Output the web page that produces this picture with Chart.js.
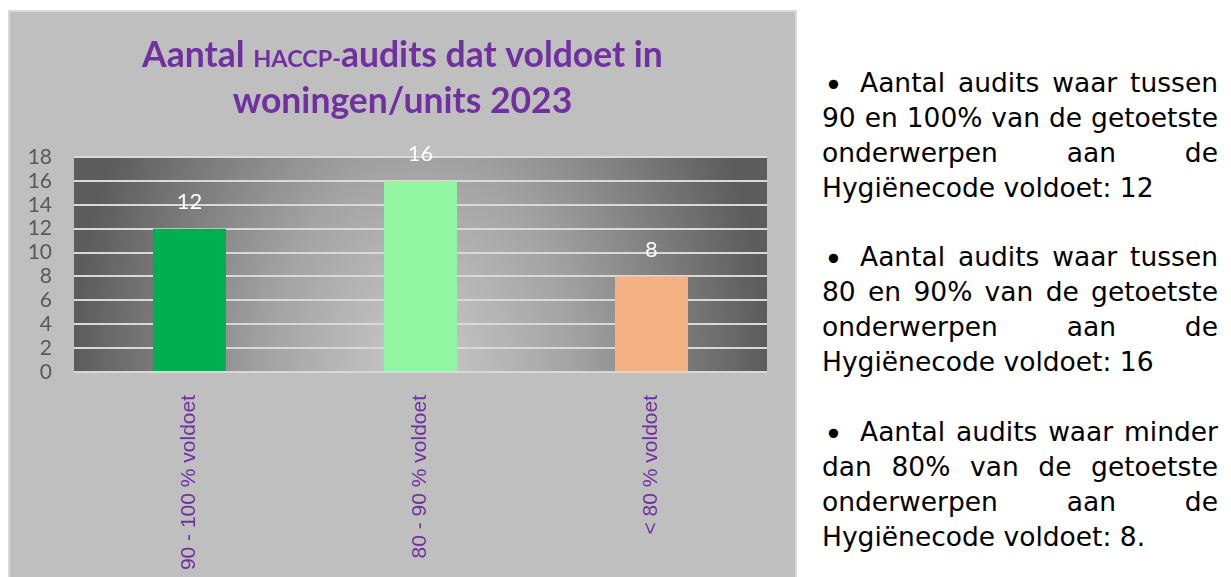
<!DOCTYPE html>
<html>
<head>
<meta charset="utf-8">
<script src="https://cdn.jsdelivr.net/npm/chart.js@4.4.1/dist/chart.umd.min.js"></script>
<style>
html, body { margin:0; padding:0; background:#ffffff; width:1231px; height:577px; overflow:hidden; }
#box { position:absolute; left:8px; top:10px; width:785px; height:567px; border:2px solid #d9d9d9; border-bottom:none; background:#bfbfbf; }
#box canvas { display:block; }
#text { position:absolute; left:822px; top:66px; width:396px; font-family:'DejaVu Sans', Verdana, sans-serif; font-size:26.5px; line-height:34.9px; color:#000; }
#text .l { white-space:nowrap; text-align:justify; text-align-last:justify; height:34.9px; }
#text .last { text-align:left; text-align-last:left; }
#text .gap { height:34.9px; }
#text .b { display:inline-block; width:38px; text-align:left; font-size:32px; line-height:20px; position:relative; top:4px; left:2px; }
</style>
</head>
<body>
<div id="box"><canvas id="c" width="785" height="565"></canvas></div>
<div id="text">
  <div class="l"><span class="b">•</span>Aantal audits waar tussen</div>
  <div class="l">90 en 100% van de getoetste</div>
  <div class="l">onderwerpen aan de</div>
  <div class="l last">Hygiënecode voldoet: 12</div>
  <div class="gap"></div>
  <div class="l"><span class="b">•</span>Aantal audits waar tussen</div>
  <div class="l">80 en 90% van de getoetste</div>
  <div class="l">onderwerpen aan de</div>
  <div class="l last">Hygiënecode voldoet: 16</div>
  <div class="gap"></div>
  <div class="l"><span class="b">•</span>Aantal audits waar minder</div>
  <div class="l">dan 80% van de getoetste</div>
  <div class="l">onderwerpen aan de</div>
  <div class="l last">Hygiënecode voldoet: 8.</div>
</div>
<script>
// ---- data ----
const categories = ['90 - 100 % voldoet', '80 - 90 % voldoet', '< 80 % voldoet'];
const values = [12, 16, 8];
const barColors = ['#00b050', '#92f5a2', '#f4b183'];
const yMin = 0;
const yMax = 18;
const yStep = 2;
const titleLine1 = [
  { text: 'Aantal ', small: false },
  { text: 'HACCP-', small: true },
  { text: 'audits dat voldoet in', small: false }
];
const titleLine2 = 'woningen/units 2023';

// ---- plugins ----
const plotBg = {
  id: 'plotBg',
  beforeDraw(chart) {
    const { ctx, chartArea: a } = chart;
    const cx = (a.left + a.right) / 2;
    const rx = (a.right - a.left) / 2;
    const ry = (a.bottom - a.top) * 2.2;
    ctx.save();
    ctx.beginPath();
    ctx.rect(a.left, a.top, a.right - a.left, a.bottom - a.top);
    ctx.clip();
    ctx.translate(cx, a.bottom);
    ctx.scale(1, ry / rx);
    const g = ctx.createRadialGradient(0, 0, 0, 0, 0, rx);
    g.addColorStop(0, '#cbcbcb');
    g.addColorStop(0.45, '#a2a2a2');
    g.addColorStop(1, '#5c5c5c');
    ctx.fillStyle = g;
    ctx.fillRect(-rx * 3, -rx * 3, rx * 6, rx * 6);
    ctx.restore();
  }
};

const titlePlugin = {
  id: 'titlePlugin',
  afterDraw(chart) {
    const ctx = chart.ctx;
    const cx = chart.width / 2;
    const big = 'bold 35.5px Lato';
    const small = 'bold 23.5px Lato';
    ctx.save();
    ctx.fillStyle = '#7030a0';
    ctx.textBaseline = 'alphabetic';
    ctx.textAlign = 'left';
    let total = 0;
    const widths = titleLine1.map(p => { ctx.font = p.small ? small : big; const w = ctx.measureText(p.text).width; total += w; return w; });
    let x = cx - total / 2;
    titleLine1.forEach((p, i) => { ctx.font = p.small ? small : big; ctx.fillText(p.text, x, 55); x += widths[i]; });
    ctx.font = big;
    ctx.textAlign = 'center';
    ctx.fillText(titleLine2, cx, 101);
    ctx.restore();
  }
};

const valueLabels = {
  id: 'valueLabels',
  afterDatasetsDraw(chart) {
    const ctx = chart.ctx;
    const meta = chart.getDatasetMeta(0);
    ctx.save();
    ctx.fillStyle = '#ffffff';
    ctx.font = '22px Lato';
    ctx.textAlign = 'center';
    ctx.textBaseline = 'middle';
    meta.data.forEach((bar, i) => {
      ctx.fillText(String(chart.data.datasets[0].data[i]), bar.x, bar.y - 27);
    });
    ctx.restore();
  }
};

new Chart(document.getElementById('c'), {
  type: 'bar',
  data: {
    labels: categories,
    datasets: [{
      data: values,
      backgroundColor: barColors,
      borderWidth: 0,
      categoryPercentage: 1,
      barPercentage: 0.316
    }]
  },
  options: {
    responsive: false,
    animation: false,
    devicePixelRatio: 1,
    layout: { padding: { top: 145, right: 28, bottom: 0, left: 0 } },
    plugins: {
      legend: { display: false },
      title: { display: false },
      tooltip: { enabled: false }
    },
    scales: {
      x: {
        grid: { display: false },
        border: { display: false },
        ticks: {
          color: '#7030a0',
          font: { family: 'Liberation Sans', size: 21 },
          minRotation: 90,
          maxRotation: 90,
          padding: 15,
          autoSkip: false
        },
        afterFit(scale) { scale.height = 205; }
      },
      y: {
        min: yMin,
        max: yMax,
        grid: { color: '#d9d9d9', lineWidth: 2, drawTicks: false },
        border: { display: false },
        ticks: {
          stepSize: yStep,
          autoSkip: false,
          color: '#595959',
          font: { family: 'Lato', size: 21 },
          padding: 22
        },
        afterFit(scale) { scale.width = 64; }
      }
    }
  },
  plugins: [plotBg, titlePlugin, valueLabels]
});
</script>
</body>
</html>
